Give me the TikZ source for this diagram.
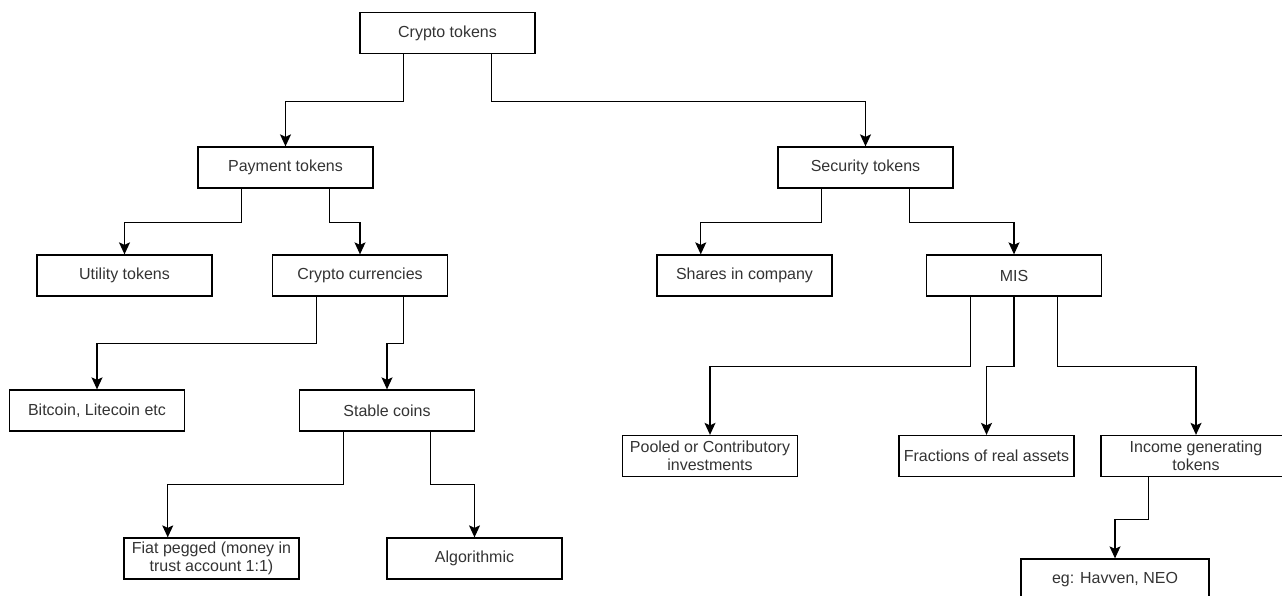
\documentclass[tikz,border=0pt]{standalone}
\usepackage{fontspec}
\setmainfont{Liberation Sans}
\usepackage{tikz}
\usetikzlibrary{arrows.meta}
\tikzset{
  tokbox/.style={draw, line width=1.3pt, minimum width=175pt, minimum height=41pt, inner sep=2pt,
    align=center, text=black!80, font=\fontsize{16}{18}\selectfont},
  tokarr/.style={draw, line width=1.3pt, -{Stealth[length=12pt,width=11pt,inset=2.5pt]}}
}

\begin{document}
\begin{tikzpicture}[x=1pt,y=1pt]
\useasboundingbox (0,0) rectangle (1282,-595);
\node[tokbox] (crypto) at (447.5,-33) {Crypto tokens};
\node[tokbox] (payment) at (285.5,-167.5) {Payment tokens};
\node[tokbox] (security) at (865.5,-167.5) {Security tokens};
\node[tokbox] (utility) at (124.5,-275.5) {Utility tokens};
\node[tokbox] (currencies) at (360,-275.5) {Crypto currencies};
\node[tokbox] (shares) at (744.5,-275.5) {Shares in company};
\node[tokbox] (mis) at (1014,-275.5) {MIS};
\node[tokbox] (bitcoin) at (97,-410.5) {Bitcoin, Litecoin etc};
\node[tokbox] (stable) at (387,-410.5) {Stable coins};
\node[tokbox] (fiat) at (211.5,-558.5) {Fiat pegged (money in\\trust account 1:1)};
\node[tokbox] (algorithmic) at (474.5,-558.5) {Algorithmic};
\node[tokbox] (pooled) at (710,-456) {Pooled or Contributory\\investments};
\node[tokbox] (fractions) at (986.5,-456) {Fractions of real assets};
\node[tokbox, minimum width=190pt] (income) at (1196,-456) {Income generating\\tokens};
\node[tokbox, minimum width=188pt] (eg) at (1115,-579.5) {eg: Havven, NEO};

\draw[tokarr] ([xshift=-43.75pt]crypto.south) -- ++(0,-47) -| (payment.north);
\draw[tokarr] ([xshift=43.75pt]crypto.south) -- ++(0,-47) -| (security.north);
\draw[tokarr] ([xshift=-43.75pt]payment.south) -- ++(0,-33.5) -| (utility.north);
\draw[tokarr] ([xshift=43.75pt]payment.south) -- ++(0,-33.5) -| (currencies.north);
\draw[tokarr] ([xshift=-43.75pt]security.south) -- ++(0,-33.5) -| ([xshift=-43.75pt]shares.north);
\draw[tokarr] ([xshift=43.75pt]security.south) -- ++(0,-33.5) -| (mis.north);
\draw[tokarr] ([xshift=-43.75pt]currencies.south) -- ++(0,-47) -| (bitcoin.north);
\draw[tokarr] ([xshift=43.75pt]currencies.south) -- ++(0,-47) -| (stable.north);
\draw[tokarr] ([xshift=-43.75pt]stable.south) -- ++(0,-53) -| ([xshift=-43.75pt]fiat.north);
\draw[tokarr] ([xshift=43.75pt]stable.south) -- ++(0,-53) -| (algorithmic.north);
\draw[tokarr] ([xshift=-43.75pt]mis.south) -- ++(0,-70) -| (pooled.north);
\draw[tokarr] (mis.south) -- ++(0,-70) -| (fractions.north);
\draw[tokarr] ([xshift=43.75pt]mis.south) -- ++(0,-70) -| (income.north);
\draw[tokarr] ([xshift=-47.5pt]income.south) -- ++(0,-42) -| (eg.north);
\end{tikzpicture}
\end{document}
